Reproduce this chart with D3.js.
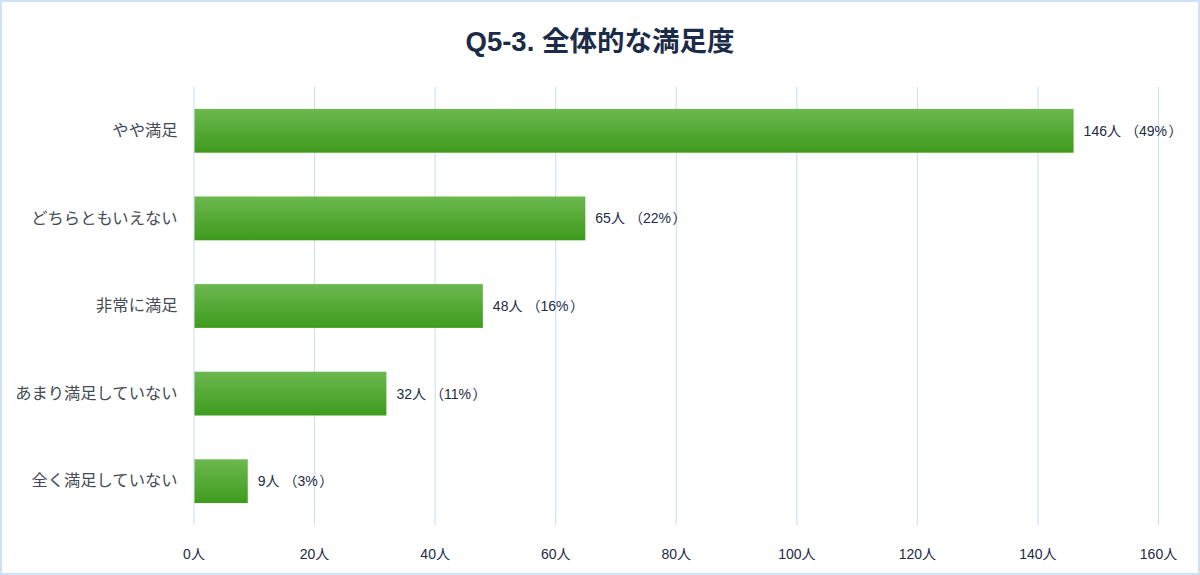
<!DOCTYPE html>
<html>
<head>
<meta charset="utf-8">
<script src="https://cdn.jsdelivr.net/npm/d3@7"></script>
<style>
  html, body { margin: 0; padding: 0; background: #fff; }
  svg { display: block; font-family: "Liberation Sans", "Noto Sans CJK JP", sans-serif; }
</style>
</head>
<body>
<div id="chart"></div>
<script>
const categories = ['やや満足', 'どちらともいえない', '非常に満足', 'あまり満足していない', '全く満足していない'];
const counts = [146, 65, 48, 32, 9];
const percents = [49, 22, 16, 11, 3];
const xTicks = [0, 20, 40, 60, 80, 100, 120, 140, 160];

const width = 1200;
const height = 575;
const margin = { top: 87, right: 42, bottom: 50, left: 193.5 };
const fontStack = '"Liberation Sans", "Noto Sans CJK JP", sans-serif';

const svg = d3.select('#chart')
  .append('svg')
  .attr('width', width)
  .attr('height', height);

const defs = svg.append('defs');
const grad = defs.append('linearGradient')
  .attr('id', 'barGrad')
  .attr('x1', 0).attr('y1', 0).attr('x2', 0).attr('y2', 1);
grad.append('stop').attr('offset', '0%').attr('stop-color', '#6cb84f');
grad.append('stop').attr('offset', '100%').attr('stop-color', '#3e9b1d');

// frame
svg.append('rect')
  .attr('x', 1).attr('y', 1)
  .attr('width', width - 2).attr('height', height - 2)
  .attr('fill', 'none')
  .attr('stroke', '#cfe1f7')
  .attr('stroke-width', 2);

svg.append('text')
  .attr('x', width / 2)
  .attr('y', 51)
  .attr('text-anchor', 'middle')
  .attr('font-size', 27.5)
  .attr('font-weight', 'bold')
  .attr('fill', '#1c2b47')
  .text('Q5-3. 全体的な満足度');

const x = d3.scaleLinear()
  .domain([0, 160])
  .range([margin.left, width - margin.right]);

const y = d3.scaleBand()
  .domain(categories)
  .range([margin.top, height - margin.bottom])
  .padding(0.5)
  .paddingOuter(0.25);

// grid
svg.append('g')
  .selectAll('line')
  .data(xTicks)
  .join('line')
  .attr('x1', d => x(d) + 0.5)
  .attr('x2', d => x(d) + 0.5)
  .attr('y1', margin.top)
  .attr('y2', height - margin.bottom)
  .attr('stroke', '#d3e2f2')
  .attr('stroke-width', 1.2);

// x axis labels
const xAxis = d3.axisBottom(x)
  .tickValues(xTicks)
  .tickSize(0)
  .tickPadding(14)
  .tickFormat(d => d + '人');
svg.append('g')
  .attr('transform', `translate(0,${height - margin.bottom + 10})`)
  .call(xAxis)
  .call(g => g.select('.domain').remove())
  .call(g => g.selectAll('text')
    .attr('font-size', 14)
    .attr('fill', '#1c2b47')
    .attr('font-family', fontStack));

// y axis labels
const yAxis = d3.axisLeft(y).tickSize(0).tickPadding(16);
svg.append('g')
  .attr('transform', `translate(${margin.left},0)`)
  .call(yAxis)
  .call(g => g.select('.domain').remove())
  .call(g => g.selectAll('text')
    .attr('font-size', 16.3)
    .attr('fill', '#444b55')
    .attr('font-family', fontStack));

// bars
svg.append('g')
  .selectAll('rect')
  .data(categories)
  .join('rect')
  .attr('x', x(0) + 1)
  .attr('y', d => y(d))
  .attr('width', (d, i) => x(counts[i]) - x(0) - 1)
  .attr('height', y.bandwidth())
  .attr('fill', 'url(#barGrad)');

// value labels: n人（p%）, parentheses padded to look full-width
const labels = svg.append('g')
  .selectAll('text')
  .data(categories)
  .join('text')
  .attr('x', (d, i) => x(counts[i]) + 10)
  .attr('y', d => y(d) + y.bandwidth() / 2)
  .attr('dy', '0.35em')
  .attr('font-size', 14)
  .attr('fill', '#1c2b47');
labels.append('tspan').text((d, i) => `${counts[i]}人`);
labels.append('tspan').attr('dx', 4).text('（');
labels.append('tspan').text((d, i) => `${percents[i]}%`);
labels.append('tspan').attr('dx', 1.5).text('）');
</script>
</body>
</html>
